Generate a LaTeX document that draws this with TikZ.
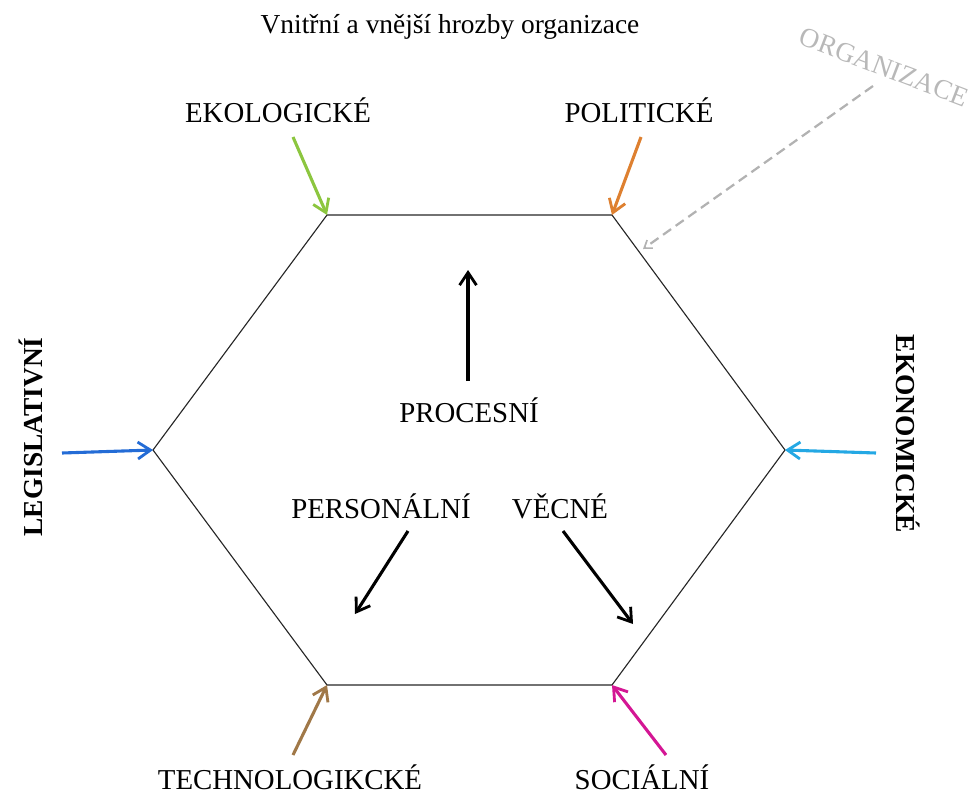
\documentclass[tikz,border=0pt]{standalone}
\usepackage{fontspec}
\setmainfont{Liberation Serif}
\usepackage{tikz}
\usetikzlibrary{positioning,arrows.meta}

\definecolor{ekogreen}{RGB}{140,198,63}
\definecolor{polorange}{RGB}{222,128,48}
\definecolor{legblue}{RGB}{36,108,214}
\definecolor{ekoblue}{RGB}{36,168,228}
\definecolor{techbrown}{RGB}{160,120,72}
\definecolor{socmagenta}{RGB}{212,22,148}

\begin{document}
\begin{tikzpicture}[
	x=0.025cm, y=-0.025cm,
	threat/.style={font=\fontsize{20.5}{22}\selectfont, text=black, inner sep=1pt},
	sidethreat/.style={font=\fontsize{19.5}{22}\selectfont\bfseries, text=black, inner sep=1pt},
	inner/.style={font=\fontsize{20.5}{22}\selectfont, text=black, inner sep=1pt},
	push/.style={line width=2.2pt, -{Straight Barb[length=9pt,width=12pt,line width=2pt]}},
	hexline/.style={draw=black!85, line width=0.8pt}
	]
	\useasboundingbox (0,0) rectangle (979,796);

	\coordinate (tl) at (327,215);
	\coordinate (tr) at (612,215);
	\coordinate (r) at (785,450);
	\coordinate (br) at (612,685);
	\coordinate (bl) at (327,685);
	\coordinate (l) at (153,450);
	\draw[hexline] (tl) -- (tr) -- (r) -- (br) -- (bl) -- (l) -- cycle;

	\node (title) at (450,27) [font=\fontsize{19.5}{22}\selectfont] {Vnitřní a vnější hrozby organizace};
	\node (org) at (884,67) [rotate=-21, text=black!28, font=\fontsize{19.5}{22}\selectfont] {ORGANIZACE};
	\coordinate (orgtip) at (643,249);
	\draw[dashed, black!30, line width=1.6pt, dash pattern=on 7pt off 4pt,
		-{Straight Barb[length=5pt,width=7pt,line width=1.2pt]}] (873,86) -- (orgtip);

	\node (eko) at (278,110) [threat] {EKOLOGICKÉ};
	\node (pol) at (639,110) [threat] {POLITICKÉ};
	\node (tech) at (290,777) [threat] {TECHNOLOGIKCKÉ};
	\node (soc) at (642,777) [threat] {SOCIÁLNÍ};
	\node (leg) at (31,437) [sidethreat, rotate=90] {LEGISLATIVNÍ};
	\node (ekon) at (908,434) [sidethreat, rotate=-90] {EKONOMICKÉ};

	\draw[push, ekogreen] (293,137) -- (tl);
	\draw[push, polorange] (641,137) -- (tr);
	\draw[push, techbrown] (293,755) -- (bl);
	\draw[push, socmagenta] (666,755) -- (br);
	\draw[push, legblue] (62,453) -- (l);
	\draw[push, ekoblue] (876,453) -- (r);

	\node (proc) at (469,410) [inner] {PROCESNÍ};
	\node (pers) at (381,506) [inner] {PERSONÁLNÍ};
	\node (vec) at (560,506) [inner] {VĚCNÉ};
	\coordinate (procend) at (468,270);
	\coordinate (persend) at (355,614);
	\coordinate (vecend) at (633,624);
	\draw[push, black] (468,381) -- (procend);
	\draw[push, black] (408,531) -- (persend);
	\draw[push, black] (563,531) -- (vecend);
\end{tikzpicture}
\end{document}
